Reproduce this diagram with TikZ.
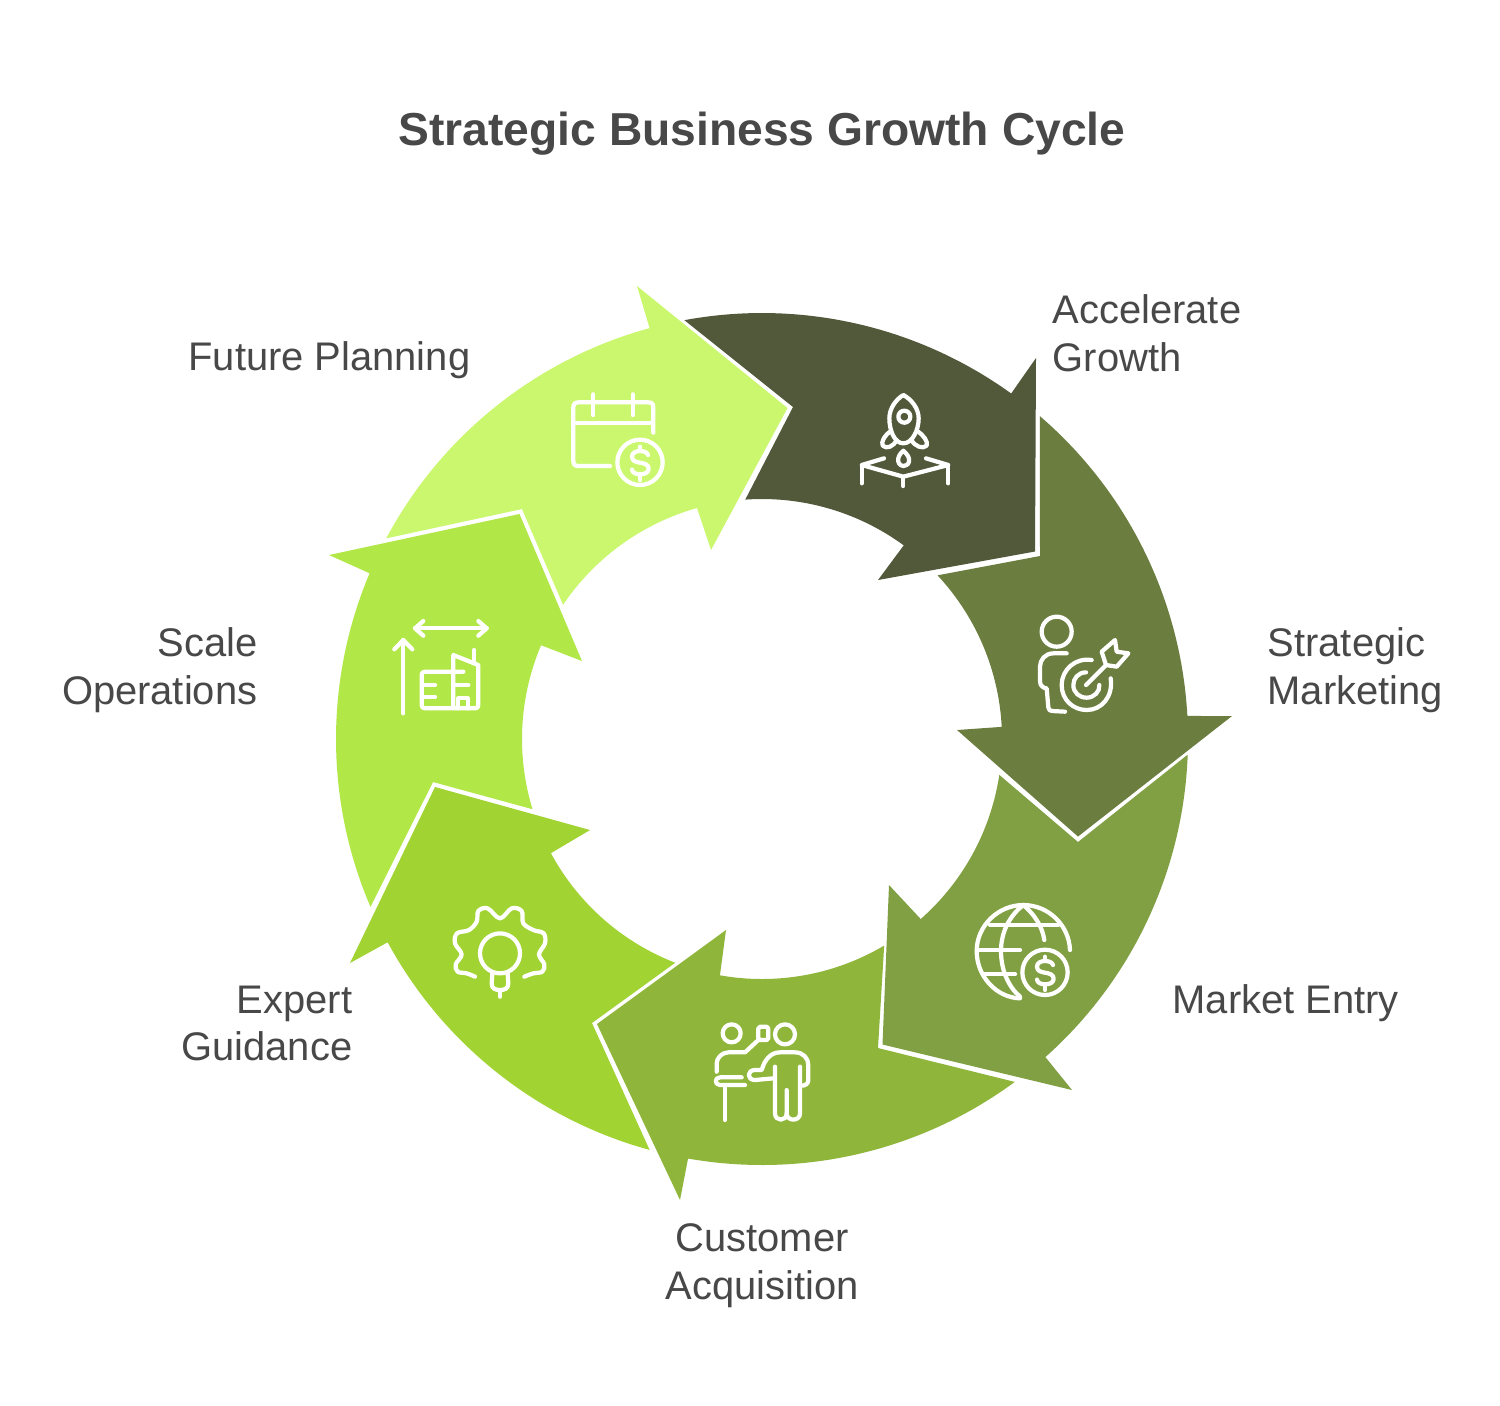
\documentclass[tikz,border=0pt]{standalone}
\usepackage{fontspec}
\setmainfont{Liberation Sans}
\definecolor{cA}{HTML}{52593A}
\definecolor{cB}{HTML}{6B7D3F}
\definecolor{cC}{HTML}{81A043}
\definecolor{cD}{HTML}{8FB63A}
\definecolor{cE}{HTML}{A1D333}
\definecolor{cF}{HTML}{B2E748}
\definecolor{cG}{HTML}{CBF76E}
\definecolor{ink}{HTML}{484848}
\newcommand\ringarrow[9]{%
  \fill[#1] plot[domain=#2:#3,samples=60] ({762+426*cos(\x)},{739+426*sin(\x)})
    -- (#4) -- (#5) -- (#6)
    -- plot[domain=#7:#8,samples=40] ({762+240*cos(\x)},{739+240*sin(\x)})
    -- (#9) -- cycle;}
\newcommand\dollarsign{%
  \draw[ico] (264,210) .. controls (262,201) and (250,198) .. (240,198)
    .. controls (225,198) and (216,205) .. (216,215)
    .. controls (216,228) and (228,231) .. (240,233)
    .. controls (252,235) and (266,238) .. (266,251)
    .. controls (266,262) and (255,268) .. (240,268)
    .. controls (228,268) and (217,263) .. (216,254);
  \draw[ico] (240,185) -- (240,198);
  \draw[ico] (240,268) -- (240,285);
  \draw[ico] (240,232) circle[radius=68];}
\tikzset{
  ico/.style={draw=white,line width=1.2pt,line cap=round,line join=round,fill=none},
  lab/.style={text=ink,font=\fontsize{11.35}{13.5}\selectfont,inner sep=0pt},
  zoomed/.style={shift={#1},scale=1/3}
}
\begin{document}
\begin{tikzpicture}[x=0.01cm,y=-0.01cm]
\useasboundingbox (0,0) rectangle (1500,1405);
\fill[white] (0,0) rectangle (1500,1405);
% ring arrows
\ringarrow{cA}{-100.5}{-54.2}{1036,358}{1035,551.5}{878,580}{-53.8}{-94}{793,407}
\ringarrow{cB}{-49.3}{-3.1}{1232,716}{1078,836.5}{957,730}{-2.9}{-43}{1040,556}
\ringarrow{cC}{2.1}{48.3}{1072,1090}{882.5,1044.5}{889,885}{48.6}{8.6}{1078,842}
\ringarrow{cD}{53.6}{100}{680,1200}{597,1024}{726,930}{100.1}{59.4}{878,1048}
\ringarrow{cE}{105.3}{151.5}{350,963}{435,787}{590,830}{151.6}{111.2}{592,1023}
\ringarrow{cF}{156.8}{202.9}{329,555}{519.5,514}{582,661}{203}{163}{433,782}
\ringarrow{cG}{208.1}{254.7}{637,286}{787.5,408}{711,550}{254.3}{214}{522,509}
% rocket
\begin{scope}[zoomed={(840,380)}]
\draw[ico] (190,190) .. controls (163,190) and (148,150) .. (148,115) .. controls (148,85) and (168,58) .. (190,45) .. controls (214,58) and (236,85) .. (236,115) .. controls (236,150) and (217,190) .. (190,190);
\draw[ico] (193,110) circle[radius=18];
\draw[ico] (152,153) .. controls (135,165) and (122,185) .. (128,197) .. controls (140,208) and (160,200) .. (170,180);
\draw[ico] (232,153) .. controls (250,165) and (265,185) .. (260,197) .. controls (248,208) and (226,200) .. (214,180);
\draw[ico] (190,212) .. controls (178,222) and (172,235) .. (175,245) .. controls (178,255) and (185,258) .. (190,258) .. controls (195,258) and (205,255) .. (207,245) .. controls (210,235) and (202,222) .. (190,212);
\draw[ico] (132,235) -- (65,255) -- (190,290) -- (325,255) -- (258,235);
\draw[ico] (65,255) -- (65,310);
\draw[ico] (325,255) -- (325,310);
\draw[ico] (190,290) -- (190,318);
\end{scope}
% person + target
\begin{scope}[zoomed={(1020,610)}]
\draw[ico] (110,65) circle[radius=45];
\draw[ico] (140,130) -- (100,130) .. controls (75,130) and (60,150) .. (60,170) -- (60,215) .. controls (60,228) and (72,235) .. (80,235) -- (85,292) .. controls (86,300) and (90,303) .. (97,303) -- (135,305);
\draw[ico] (215,150) .. controls (165,142) and (125,180) .. (125,225) .. controls (125,270) and (160,300) .. (200,300) .. controls (245,300) and (280,260) .. (272,205);
\draw[ico] (198,187) .. controls (175,187) and (160,205) .. (160,225) .. controls (160,248) and (178,263) .. (200,263) .. controls (222,263) and (240,245) .. (238,225);
\draw[ico] (198,225) -- (258,165);
\draw[ico] (245,125) -- (285,90) -- (290,125) -- (325,130) -- (290,170) -- (258,165) -- cycle;
\end{scope}
% globe
\begin{scope}[zoomed={(965,895)}]
\draw[ico] (315,165) .. controls (312,90) and (250,30) .. (175,30) .. controls (100,30) and (35,92) .. (35,168) .. controls (35,245) and (95,308) .. (165,310);
\draw[ico] (175,30) .. controls (130,65) and (108,115) .. (108,168) .. controls (108,225) and (130,275) .. (165,305);
\draw[ico] (175,30) .. controls (210,60) and (232,95) .. (238,135);
\draw[ico] (75,90) -- (280,90);
\draw[ico] (40,165) -- (165,165);
\draw[ico] (60,238) -- (150,238);
\dollarsign
\end{scope}
% people
\begin{scope}[zoomed={(705,1015)}]
\draw[ico] (80,55) circle[radius=27];
\draw[ico] (240,58) circle[radius=30];
\draw[ico,rounded corners=0.5pt] (160,35) rectangle (190,75);
\draw[ico] (160,75) -- (120,112) -- (70,112) .. controls (50,112) and (35,130) .. (35,145) -- (35,170);
\draw[ico] (110,187) -- (45,187) .. controls (28,187) and (28,210) .. (45,210) -- (120,210);
\draw[ico] (60,215) -- (60,315);
\draw[ico] (210,155) -- (210,295) .. controls (210,320) and (245,320) .. (245,295) -- (245,225);
\draw[ico] (245,295) .. controls (245,320) and (285,320) .. (285,295) -- (285,155);
\draw[ico] (205,190) -- (150,195) .. controls (125,195) and (125,165) .. (150,165) -- (170,165) .. controls (180,130) and (200,112) .. (225,112) -- (270,112) .. controls (295,112) and (310,130) .. (310,150) -- (310,195) .. controls (310,207) and (300,212) .. (290,212);
\end{scope}
% gear + bulb
\begin{scope}[zoomed={(445,895)}]
\draw[ico] plot[smooth,tension=0.6] coordinates {(90,245) (65,235) (38,230) (32,208) (50,178) (30,145) (36,115) (72,105) (95,80) (100,48) (128,40) (165,70) (200,40) (230,48) (235,85) (265,105) (296,115) (300,145) (282,178) (298,208) (292,230) (265,235) (238,245)};
\draw[ico] (165,175) circle[radius=60];
\draw[ico] (142,235) -- (140,265) .. controls (140,280) and (150,285) .. (165,285) .. controls (180,285) and (190,280) .. (190,265) -- (188,235);
\draw[ico] (165,290) -- (165,305);
\end{scope}
% scale
\begin{scope}[zoomed={(385,610)}]
\draw[ico] (90,55) -- (305,55);
\draw[ico] (115,33) -- (90,55) -- (115,77);
\draw[ico] (280,33) -- (305,55) -- (280,77);
\draw[ico] (55,310) -- (55,90);
\draw[ico] (28,118) -- (55,90) -- (82,118);
\draw[ico] (235,185) -- (120,185) .. controls (113,185) and (110,188) .. (110,195) -- (110,285) .. controls (110,292) and (113,295) .. (120,295) -- (270,295) .. controls (277,295) and (280,292) .. (280,285) -- (280,165) -- (205,135) -- (205,295);
\draw[ico] (268,120) -- (268,160);
\draw[ico] (115,225) -- (150,225);
\draw[ico] (115,260) -- (150,260);
\draw[ico] (205,225) -- (250,225);
\draw[ico] (220,295) -- (220,265) -- (248,265) -- (248,295);
\end{scope}
% calendar
\begin{scope}[zoomed={(560,385)}]
\draw[ico] (150,243) -- (55,243) .. controls (45,243) and (40,238) .. (40,228) -- (40,67) .. controls (40,57) and (45,52) .. (55,52) -- (265,52) .. controls (275,52) and (280,57) .. (280,67) -- (280,143);
\draw[ico] (42,115) -- (275,115);
\draw[ico] (100,28) -- (100,90);
\draw[ico] (218,28) -- (218,90);
\dollarsign
\end{scope}
% texts
\node[text=ink,inner sep=0pt,font=\fontsize{13.14}{16}\selectfont\bfseries] (title) at (762,134) {Strategic Business Growth Cycle};
\node[lab,align=left,anchor=west] (t1) at (1052,333) {Accelerate\\Growth};
\node[lab,align=left,anchor=west] (t2) at (1267,670) {Strategic\\Marketing};
\node[lab,align=left,anchor=west] (t3) at (1172,1003) {Market Entry};
\node[lab,align=center,anchor=center] (t4) at (762,1265.5) {Customer\\Acquisition};
\node[lab,align=right,anchor=east] (t5) at (353,1023.5) {Expert\\Guidance};
\node[lab,align=right,anchor=east] (t6) at (258,670) {Scale\\Operations};
\node[lab,align=right,anchor=east] (t7) at (471,360) {Future Planning};
\end{tikzpicture}
\end{document}
